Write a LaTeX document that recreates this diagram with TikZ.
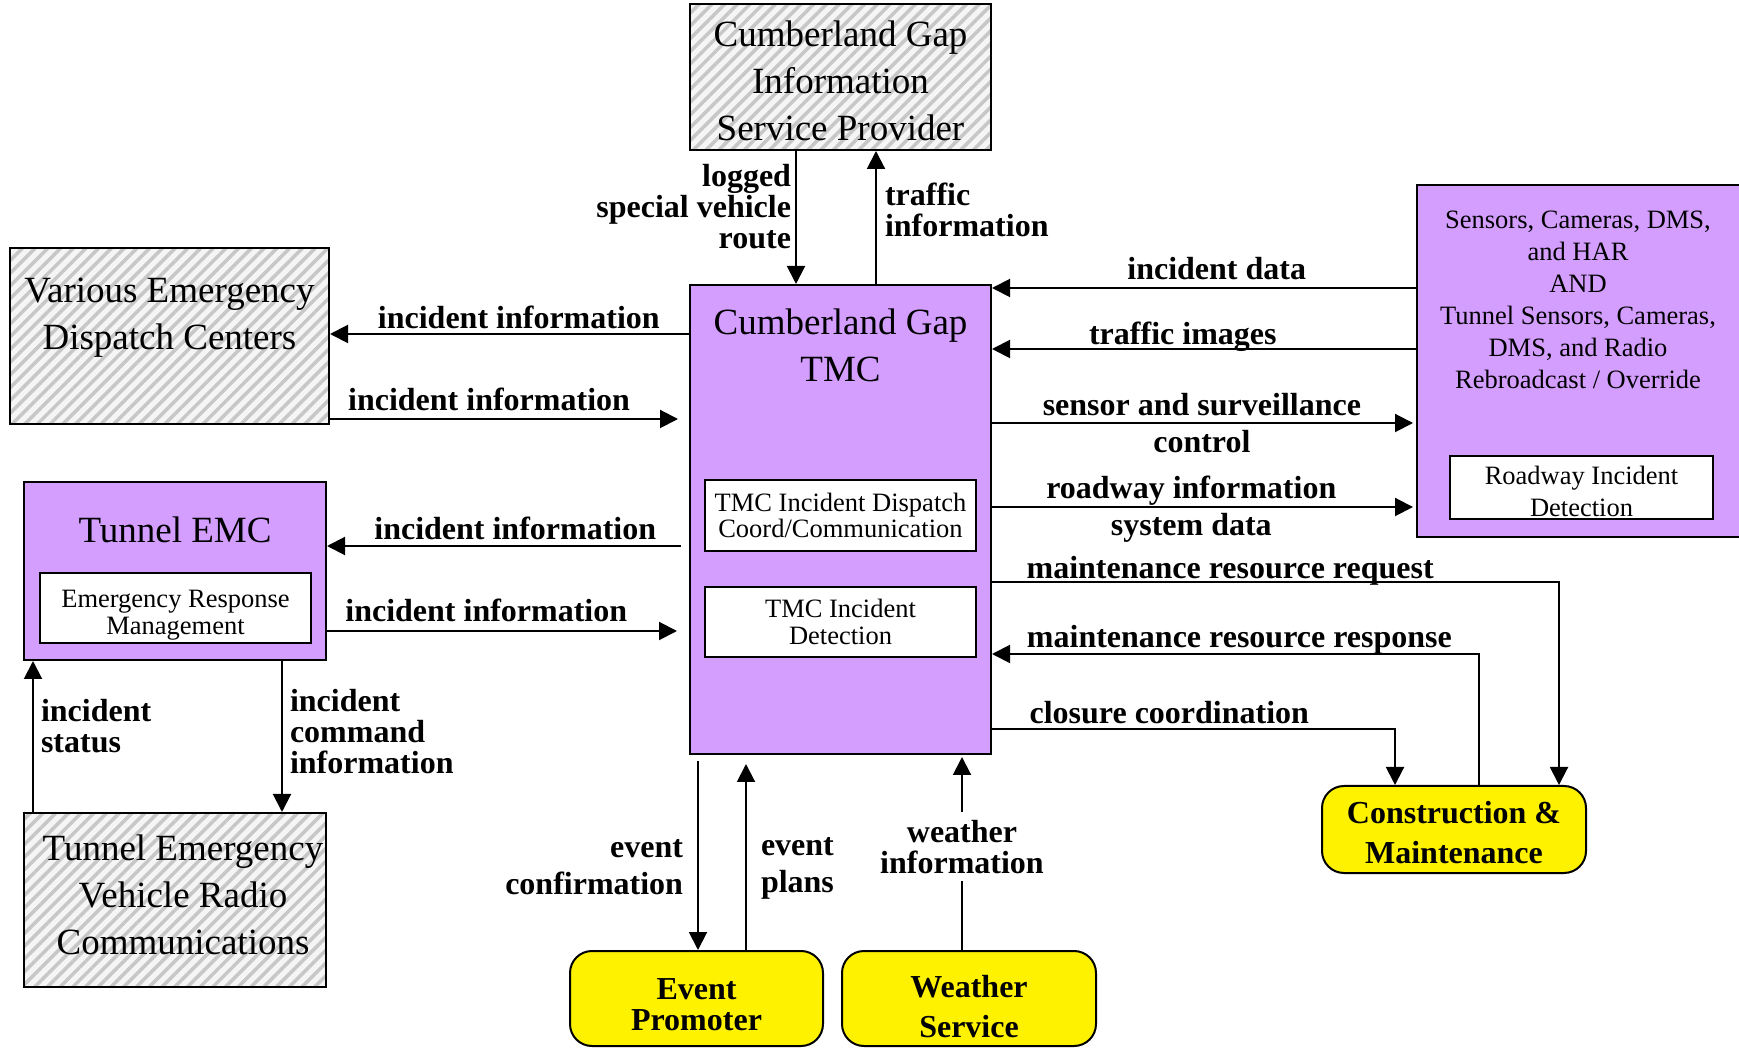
\documentclass[tikz,border=0pt]{standalone}
\usepackage{fontspec}
\setmainfont{Liberation Serif}
\usepackage{tikz}
\usetikzlibrary{arrows.meta, positioning, patterns.meta}

\definecolor{tmcpurple}{RGB}{212,158,255}
\newcommand{\boxfont}{\fontsize{37}{47}\selectfont}
\newcommand{\lblfont}{\fontsize{32}{31}\selectfont\bfseries}
\newcommand{\innerfont}{\fontsize{26.5}{26.6}\selectfont}
\newcommand{\sensfont}{\fontsize{26.5}{32}\selectfont}

\tikzstyle{extbox} = [rectangle, draw=black, line width=2pt, preaction={fill=gray!8}, preaction={pattern={Lines[angle=45,distance=9pt,line width=3.5pt]}, pattern color=black!22}, align=center, font=\boxfont, inner sep=0pt]
\tikzstyle{sysbox} = [rectangle, draw=black, line width=2pt, fill=tmcpurple]
\tikzstyle{subbox} = [rectangle, draw=black, line width=2pt, fill=white, align=center, font=\innerfont, inner sep=0pt]
\tikzstyle{termbox} = [rectangle, rounded corners=22pt, draw=black, line width=2pt, fill=yellow, align=center, font=\lblfont, inner sep=0pt]
\tikzstyle{arrow} = [line width=2pt, -{Triangle[length=18pt,width=18pt]}]
\tikzstyle{lbl} = [font=\lblfont, inner sep=4pt]

\begin{document}
\begin{tikzpicture}[x=1pt, y=1pt]
  \useasboundingbox (0,0) rectangle (1739,1047);

  % outside systems
  \node[extbox, minimum width=301pt, minimum height=146pt, label={[font=\boxfont, align=center, yshift=-4pt]center:{Cumberland Gap\\Information\\Service Provider}}] (isp) at (840.5,970) {};
  \node[extbox, minimum width=319pt, minimum height=176pt, label={[font=\boxfont, align=center, yshift=18pt]center:{Various Emergency\\Dispatch Centers}}] (vedc) at (169.5,711) {};
  \node[extbox, minimum width=302pt, minimum height=174pt, label={[font=\boxfont, align=center, xshift=8pt, yshift=5pt]center:{Tunnel Emergency\\Vehicle Radio\\Communications}}] (tevrc) at (175,147) {};

  % TMC
  \node[sysbox, minimum width=301pt, minimum height=469pt] (tmc) at (840.5,527.5) {};
  \node[font=\boxfont, align=center] (tmctitle) at (840.5,701.5) {Cumberland Gap\\TMC};
  \node[subbox, minimum width=271pt, minimum height=71pt] (disp) at (840.5,531.5) {TMC Incident Dispatch\\Coord/Communication};
  \node[subbox, minimum width=271pt, minimum height=70pt, below=34pt of disp] (det) {TMC Incident\\Detection};

  % tunnel EMC
  \node[sysbox, minimum width=302pt, minimum height=178pt] (emc) at (175,476) {};
  \node[font=\boxfont] (emctitle) at (175,517) {Tunnel EMC};
  \node[subbox, minimum width=271pt, minimum height=70pt, label={[font=\innerfont, align=center, yshift=-7pt]center:{Emergency Response\\Management}}] (erm) at (175.5,439) {};

  % field devices
  \node[sysbox, minimum width=323pt, minimum height=352pt] (field) at (1578.5,686) {};
  \node[font=\sensfont, align=center] (fieldtxt) at (1578,747.5) {Sensors, Cameras, DMS,\\and HAR\\AND\\Tunnel Sensors, Cameras,\\DMS, and Radio\\Rebroadcast / Override};
  \node[subbox, minimum width=263pt, minimum height=63pt, label={[font=\innerfont, align=center, yshift=-4pt]center:{Roadway Incident\\[5pt]Detection}}] (rid) at (1581.5,559.5) {};

  % terminators
  \node[termbox, minimum width=253pt, minimum height=95pt, label={[font=\lblfont, align=center, yshift=-6pt]center:{Event\\Promoter}}] (evp) at (696.5,48.5) {};
  \node[termbox, minimum width=254pt, minimum height=95pt, right=17pt of evp, label={[font=\lblfont, align=center, yshift=-8pt]center:{Weather\\[9pt]Service}}] (wthr) {};
  \node[termbox, minimum width=264pt, minimum height=87pt, label={[font=\lblfont, align=center, yshift=-3pt]center:{Construction \&\\[9pt]Maintenance}}] (cm) at (1454,217.5) {};

  % top
  \draw[arrow] (isp.south -| 796,0) -- (tmc.north -| 796,0) node[lbl, left, align=right, pos=0.42] (lbllog) {logged\\special vehicle\\route};
  \draw[arrow] (tmc.north -| 876,0) -- (isp.south -| 876,0) node[lbl, right=4pt, align=left, pos=0.56] (lbltrf) {traffic\\information};

  % left
  \draw[arrow] (tmc.west |- 0,713) -- (vedc.east |- 0,713) node[lbl, above, pos=0.474] (lblv1) {incident information};
  \draw[arrow, shorten >=11pt] (vedc.east |- 0,628) -- (tmc.west |- 0,628) node[lbl, above=3pt, pos=0.443] (lblv2) {incident information};
  \draw[arrow, shorten <=8pt] (tmc.west |- 0,501) -- (emc.east |- 0,501) node[lbl, above=1pt, pos=0.48] (lble1) {incident information};
  \draw[arrow, shorten >=12pt] (emc.east |- 0,416) -- (tmc.west |- 0,416) node[lbl, above=4pt, pos=0.44] (lble2) {incident information};
  \draw[arrow] (emc.south -| 282,0) -- (tevrc.north -| 282,0) node[lbl, right=3pt, align=left, pos=0.47] (lblcmd) {incident\\command\\information};
  \draw[arrow] (tevrc.north -| 33,0) -- (emc.south -| 33,0) node[lbl, right=3pt, align=left, pos=0.57] (lblsts) {incident\\status};

  % right
  \draw[arrow] (field.west |- 0,759) -- (tmc.east |- 0,759) node[lbl, above=3pt, pos=0.47] (lbldat) {incident data};
  \draw[arrow] (field.west |- 0,698) -- (tmc.east |- 0,698) node[lbl, above, yshift=-8pt, pos=0.55] (lblimg) {traffic images};
  \draw[arrow, shorten >=3pt] (tmc.east |- 0,624) -- (field.west |- 0,624) node[lbl, align=center, pos=0.495] (lblctl) {sensor and surveillance\\[6pt]control};
  \draw[arrow, shorten >=3pt] (tmc.east |- 0,540) -- (field.west |- 0,540) node[lbl, align=center, yshift=-2pt, pos=0.47] (lblrds) {roadway information\\[6pt]system data};
  \draw[arrow] (tmc.east |- 0,465) -| (cm.north -| 1559,0) node[lbl, above, yshift=-8pt, pos=0.21] (lblreq) {maintenance resource request};
  \draw[arrow] (cm.north -| 1479,0) |- (tmc.east |- 0,393) node[lbl, above, yshift=-5pt, pos=0.746] (lblrsp) {maintenance resource response};
  \draw[arrow] (tmc.east |- 0,318) -| (cm.north -| 1395,0) node[lbl, above, pos=0.22] (lblcls) {closure coordination};

  % bottom
  \draw[arrow, shorten <=6pt] (tmc.south -| 698,0) -- (evp.north -| 698,0) node[lbl, left=10pt, align=right, yshift=-3pt, pos=0.56] (lblcnf) {event\\[6pt]confirmation};
  \draw[arrow, shorten >=9pt] (evp.north -| 746,0) -- (tmc.south -| 746,0) node[lbl, right=10pt, align=left, yshift=-4pt, pos=0.44] (lblpln) {event\\[6pt]plans};
  \draw[arrow, shorten >=2pt] (wthr.north -| 962,0) -- (tmc.south -| 962,0) node[lbl, fill=white, inner sep=8pt, align=center, pos=0.53] (lblwth) {weather\\information};
\end{tikzpicture}
\end{document}
